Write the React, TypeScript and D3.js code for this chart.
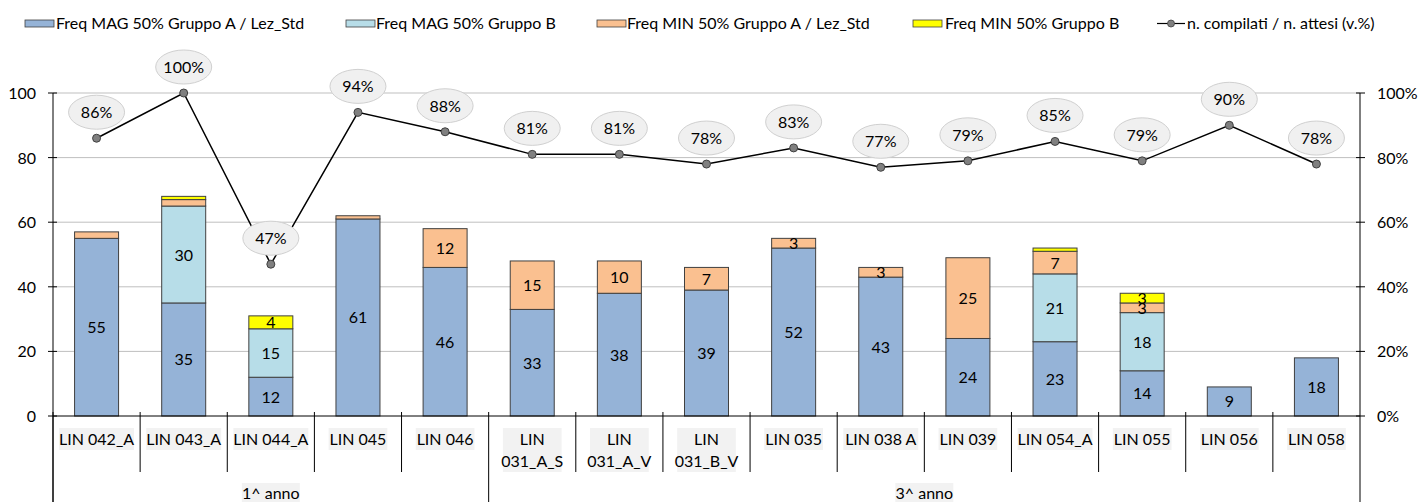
import React from "react";
import * as d3 from "d3";

const categories = ["LIN 042_A","LIN 043_A","LIN 044_A","LIN 045","LIN 046","LIN 031_A_S","LIN 031_A_V","LIN 031_B_V","LIN 035","LIN 038 A","LIN 039","LIN 054_A","LIN 055","LIN 056","LIN 058"];
const magA = [55,35,12,61,46,33,38,39,52,43,24,23,14,9,18];
const magB = [0,30,15,0,0,0,0,0,0,0,0,21,18,0,0];
const minA = [2,2,0,1,12,15,10,7,3,3,25,7,3,0,0];
const minB = [0,1,4,0,0,0,0,0,0,0,0,1,3,0,0];
const pct = [86,100,47,94,88,81,81,78,83,77,79,85,79,90,78];
const groups = [{ label: "1^ anno", from: 0, to: 5 }, { label: "3^ anno", from: 5, to: 15 }];
const leftTicks = [0,20,40,60,80,100];
const rightTicks = [0,20,40,60,80,100];

const seriesNames = ["Freq MAG 50% Gruppo A / Lez_Std","Freq MAG 50% Gruppo B","Freq MIN 50% Gruppo A / Lez_Std","Freq MIN 50% Gruppo B"];
const colors = ["#95b3d7","#b7dde8","#fac090","#ffff00"];
const lineName = "n. compilati / n. attesi (v.%)";

const FONT = "Lato, sans-serif";
const FS = 16;

export default function App() {
  const W = 1419, H = 502;
  const x0 = 53, x1 = 1360, yTop = 93, yBot = 416;
  const x = d3.scaleBand<number>().domain(d3.range(categories.length)).range([x0, x1]).paddingInner(0).paddingOuter(0);
  const y = d3.scaleLinear().domain([0, 100]).range([yBot, yTop]);
  const yR = d3.scaleLinear().domain([0, 100]).range([yBot, yTop]);
  const bw = 44;
  const data = categories.map((c, i) => ({ c, i, v: [magA[i], magB[i], minA[i], minB[i]] }));
  const stack = d3.stack<any>().keys(["0","1","2","3"]).value((d: any, k: string) => d.v[+k])(data);
  const line = d3.line<number>().x((_, i) => x(i)! + x.bandwidth() / 2).y(d => yR(d));

  const legendItems = [
    { x: 25, tx: 56, t: seriesNames[0], c: colors[0] },
    { x: 346, tx: 376, t: seriesNames[1], c: colors[1] },
    { x: 597, tx: 627, t: seriesNames[2], c: colors[2] },
    { x: 913, tx: 945, t: seriesNames[3], c: colors[3] },
  ];

  return (
    <svg width={W} height={H} style={{ position: "absolute", left: 0, top: 0, fontFamily: FONT }}>
      <rect width={W} height={H} fill="#fff" />
      {/* legend */}
      {legendItems.map((l, k) => (
        <g key={k}>
          <rect x={l.x} y={20} width={29} height={7} fill={l.c} stroke="#404040" strokeWidth={0.8} />
          <text x={l.tx} y={29} fontSize={FS} fill="#000">{l.t}</text>
        </g>
      ))}
      <line x1={1157} x2={1185} y1={23.5} y2={23.5} stroke="#000" strokeWidth={1.2} />
      <circle cx={1171} cy={23.5} r={3.5} fill="#808080" stroke="#404040" strokeWidth={0.8} />
      <text x={1187} y={29} fontSize={FS}>{lineName}</text>

      {/* gridlines */}
      {leftTicks.filter(t => t > 0).map(t => (
        <line key={t} x1={x0} x2={x1} y1={y(t)} y2={y(t)} stroke="#bfbfbf" strokeWidth={1} />
      ))}
      {/* left axis */}
      <line x1={x0} x2={x0} y1={yTop} y2={H} stroke="#000" strokeWidth={1} />
      {leftTicks.map(t => (
        <g key={t}>
          <line x1={x0 - 5} x2={x0 + 4} y1={y(t)} y2={y(t)} stroke="#000" />
          <text x={36} y={y(t) + 6} textAnchor="end" fontSize={FS}>{t}</text>
        </g>
      ))}
      {/* right axis */}
      <line x1={x1} x2={x1} y1={yTop} y2={H} stroke="#000" strokeWidth={1} />
      {rightTicks.map(t => (
        <g key={t}>
          <line x1={x1 - 4} x2={x1 + 5} y1={yR(t)} y2={yR(t)} stroke="#000" />
          <text x={1377} y={yR(t) + 6} fontSize={FS}>{t}%</text>
        </g>
      ))}

      {/* bars */}
      {stack.map((s, k) => (
        <g key={k}>
          {s.map((d, i) => {
            const h = y(d[0]) - y(d[1]);
            if (h <= 0) return null;
            return <rect key={i} x={x(i)! + x.bandwidth() / 2 - bw / 2} y={y(d[1])} width={bw} height={h} fill={colors[k]} stroke="#404040" strokeWidth={1} />;
          })}
        </g>
      ))}
      {stack.map((s, k) => (
        <g key={"l" + k}>
          {s.map((d, i) => {
            const v = d[1] - d[0];
            if (v < 3) return null;
            return <text key={i} x={x(i)! + x.bandwidth() / 2} y={(y(d[0]) + y(d[1])) / 2 + 6} textAnchor="middle" fontSize={FS}>{v}</text>;
          })}
        </g>
      ))}

      {/* x axis */}
      <line x1={x0} x2={x1} y1={yBot} y2={yBot} stroke="#000" />
      {d3.range(1, categories.length).map(i => (
        groups.some(g => g.from === i) ? null :
        <line key={i} x1={x(i)!} x2={x(i)!} y1={yBot - 4} y2={472} stroke="#000" />
      ))}
      {groups.map(g => (
        <line key={g.label} x1={x(g.from)!} x2={x(g.from)!} y1={yBot - 4} y2={H} stroke="#000" />
      ))}
      {categories.map((c, i) => {
        const cx = x(i)! + x.bandwidth() / 2;
        const parts = c.length > 9 ? ["LIN", c.slice(4)] : [c];
        const tw = Math.max(...parts.map(p => p.length)) * 8.1;
        return (
          <g key={c}>
            <rect x={cx - tw / 2 - 1} y={428} width={tw + 2} height={parts.length * 22} fill="#f2f2f2" />
            {parts.map((p, j) => (
              <text key={j} x={cx} y={445 + j * 22} textAnchor="middle" fontSize={FS}>{p}</text>
            ))}
          </g>
        );
      })}
      {groups.map(g => {
        const cx = (x(g.from)! + (g.to >= categories.length ? x1 : x(g.to)!)) / 2;
        return (
          <g key={g.label}>
            <rect x={cx - 29} y={483} width={58} height={19} fill="#f2f2f2" />
            <text x={cx} y={499} textAnchor="middle" fontSize={FS}>{g.label}</text>
          </g>
        );
      })}

      {/* line */}
      <path d={line(pct)!} fill="none" stroke="#000" strokeWidth={1.5} />
      {pct.map((p, i) => (
        <circle key={i} cx={x(i)! + x.bandwidth() / 2} cy={yR(p)} r={4} fill="#808080" stroke="#404040" strokeWidth={1} />
      ))}
      {pct.map((p, i) => {
        const cx = x(i)! + x.bandwidth() / 2;
        const cy = yR(p) - 26;
        return (
          <g key={"e" + i}>
            <ellipse cx={cx} cy={cy} rx={28} ry={17} fill="#f0f0f0" stroke="#d0d0d0" strokeWidth={1} />
            <text x={cx} y={cy + 6} textAnchor="middle" fontSize={FS}>{p}%</text>
          </g>
        );
      })}
    </svg>
  );
}
